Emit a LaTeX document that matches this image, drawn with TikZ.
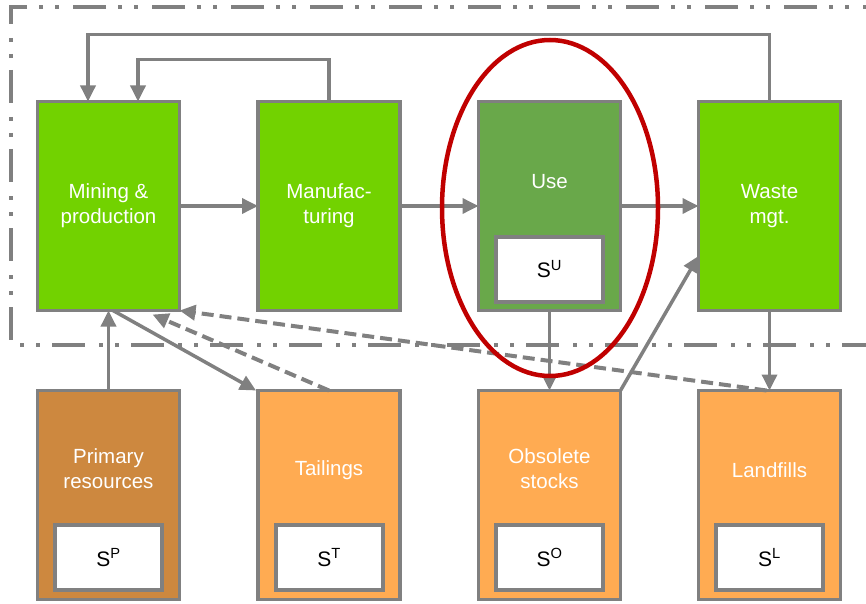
\documentclass[tikz,border=0pt]{standalone}
\usepackage{fontspec}
\setmainfont{Liberation Sans}
\usetikzlibrary{arrows.meta,shapes.geometric,calc}
\definecolor{flowgray}{HTML}{808080}
\definecolor{procgreen}{HTML}{72D200}
\definecolor{usegreen}{HTML}{69A84A}
\definecolor{primbrown}{HTML}{CD883F}
\definecolor{stockorange}{HTML}{FFAB52}
\definecolor{ringred}{HTML}{C00000}
\tikzset{
  box/.style={rectangle, draw=flowgray, line width=3.5pt, outer sep=0pt,
    minimum width=142pt, minimum height=209pt, inner sep=0pt},
  procbox/.style={box, fill=procgreen},
  stockbox/.style={box, fill=stockorange},
  stockval/.style={rectangle, draw=flowgray, line width=4pt, fill=white,
    minimum width=107pt, minimum height=65pt, inner sep=0pt,
    font=\fontsize{21}{25}\selectfont},
  lbl/.style={text=white, align=center, inner sep=0pt,
    font=\fontsize{20.5}{25}\selectfont},
  flow/.style={draw=flowgray, line width=3.5pt,
    -{Triangle[length=16pt,width=15pt]}},
  backflow/.style={flow, line width=4pt, dash pattern=on 12pt off 6pt},
}
\begin{document}
\begin{tikzpicture}[x=1pt,y=-1pt]
\useasboundingbox (0,0) rectangle (866,604);
\begin{scope}
\clip (0,0) rectangle (866,604);
% system boundary (open towards the right)
\draw[flowgray, line width=3.5pt,
  dash pattern=on 33pt off 14pt on 4pt off 12pt on 4pt off 12pt, dash phase=16pt]
  (880,7) -- (11,7) -- (11,345) -- (880,345);
\end{scope}

% processes inside the system
\node[procbox] (mining) at (108.5,206) {};
\node[procbox] (manuf)  at (329,206) {};
\node[box, fill=usegreen] (use) at (549.5,206) {};
\node[procbox] (waste)  at (769.5,206) {};

% stocks outside the system
\node[box, fill=primbrown] (primary) at (108.5,495) {};
\node[stockbox] (tailings)  at (329,495) {};
\node[stockbox] (obsolete)  at (549.5,495) {};
\node[stockbox] (landfills) at (769.5,495) {};

% labels
\node[lbl] (miningT) at (mining) {Mining \&\\production};
\node[lbl] (manufT)  at (manuf) {Manufac-\\turing};
\node[lbl] (useT)    at ($(use)+(0,-24)$) {Use};
\node[lbl] (wasteT)  at (waste) {Waste\\mgt.};
\node[lbl] (primaryT)   at ($(primary)+(0,-26)$) {Primary\\resources};
\node[lbl] (tailingsT)  at ($(tailings)+(0,-25)$) {Tailings};
\node[lbl] (obsoleteT)  at ($(obsolete)+(0,-26)$) {Obsolete\\stocks};
\node[lbl] (landfillsT) at ($(landfills)+(0,-25)$) {Landfills};

% stock values
\node[stockval] (sU) at ($(use)+(0,63)$) {S\textsuperscript{U}};
\node[stockval] (sP) at ($(primary)+(0,62.5)$) {S\textsuperscript{P}};
\node[stockval] (sT) at ($(tailings)+(0,62.5)$) {S\textsuperscript{T}};
\node[stockval] (sO) at ($(obsolete)+(0,62.5)$) {S\textsuperscript{O}};
\node[stockval] (sL) at ($(landfills)+(0,62.5)$) {S\textsuperscript{L}};

% main chain
\draw[flow] (mining.east) -- (manuf.west);
\draw[flow] (manuf.east) -- (use.west);
\draw[flow] (use.east) -- (waste.west);

% recycling loops
\draw[flow] (waste.north) -- ++(0,-67) -| ([xshift=-20.5pt]mining.north);
\draw[flow] (manuf.north) -- ++(0,-42) -| ([xshift=29.5pt]mining.north);

% exchanges with stocks
\draw[flow] (primary.north) -- (mining.south);
\draw[flow] ([xshift=4.5pt]mining.south) -- ([xshift=-2pt]tailings.north west);
\draw[flow] (use.south) -- (obsolete.north);
\draw[flow] (waste.south) -- (landfills.north);
\draw[flow] (obsolete.north east) -- ([yshift=-50pt]waste.west);

% re-mining of tailings and landfills
\draw[backflow] (tailings.north) -- ([xshift=44pt,yshift=-4pt]mining.south);
\draw[backflow] ([xshift=-3pt]landfills.north) -- (mining.south east);

% highlighted in-use stock
\node[ellipse, draw=ringred, line width=4.5pt, minimum width=216pt,
  minimum height=336pt, inner sep=0pt] (ring) at (550,208) {};
\end{tikzpicture}
\end{document}
